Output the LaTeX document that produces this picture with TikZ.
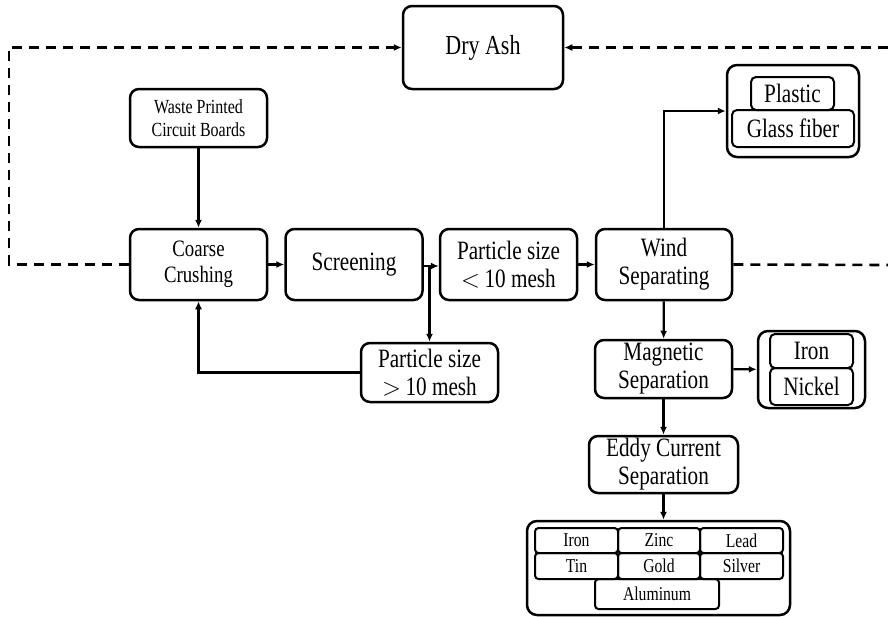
\documentclass[tikz,border=0pt]{standalone}
\usepackage{fontspec}
\setmainfont{Liberation Serif}
\newfontfamily\condfont[FakeStretch=0.8]{Liberation Serif}
\usetikzlibrary{arrows.meta}
\begin{document}
\begin{tikzpicture}[x=1pt,y=-1pt,
  box/.style={draw,line width=2.5pt,rounded corners=9pt,inner sep=0pt,align=center,font=\condfont\fontsize{26.5}{28}\selectfont},
  smallbox/.style={box,font=\condfont\fontsize{20}{23}\selectfont},
  outerbox/.style={draw,line width=2.5pt,rounded corners=10pt,inner sep=0pt},
  cell/.style={draw,line width=2pt,rounded corners=5pt,inner sep=0pt,align=center,font=\condfont\fontsize{26.5}{28}\selectfont},
  gcell/.style={cell,rounded corners=3.5pt,font=\condfont\fontsize{19.6}{22}\selectfont},
  arr/.style={line width=2.3pt,-{Latex[length=8pt,width=7pt]}},
  dashline/.style={line width=2.6pt,dash pattern=on 10pt off 7pt},
  dasharr/.style={dashline,-{Latex[length=8pt,width=7pt]}}]
\useasboundingbox (0,0) rectangle (888,616);
% main boxes
\node[box,minimum width=160pt,minimum height=83pt,font=\condfont\fontsize{27.5}{29}\selectfont] (dry) at (483,47.5) {Dry Ash};
\node[smallbox,minimum width=137pt,minimum height=58pt] (wpcb) at (198.5,118) {Waste Printed\\Circuit Boards};
\node[box,minimum width=137pt,minimum height=71pt,font=\condfont\fontsize{23.5}{26}\selectfont] (coarse) at (198.5,264.5) {Coarse\\Crushing};
\node[box,minimum width=137pt,minimum height=71pt] (screen) at (354,264.5) {Screening};
\node[box,minimum width=137pt,minimum height=71pt] (plt) at (508.5,264.5) {Particle size\\${<}$\,10 mesh};
\node[box,minimum width=136pt,minimum height=71pt] (wind) at (664,264.5) {Wind\\Separating};
\node[box,minimum width=137pt,minimum height=59pt] (pgt) at (429.5,372.5) {Particle size\\${>}$\,10 mesh};
\node[box,minimum width=137pt,minimum height=58pt] (mag) at (663.5,369) {Magnetic\\Separation};
\node[box,minimum width=149pt,minimum height=57pt] (eddy) at (663.5,464.5) {Eddy Current\\Separation};
% plastic / glass fiber
\node[outerbox,minimum width=132pt,minimum height=92pt] (pg) at (793,111) {};
\node[cell,minimum width=83pt,minimum height=33pt] (plastic) at (792.5,93.5) {Plastic};
\node[cell,minimum width=122pt,minimum height=37pt] (glass) at (793,128.5) {Glass fiber};
% iron / nickel
\node[outerbox,minimum width=107pt,minimum height=77pt] (fe) at (811.5,369.5) {};
\node[cell,minimum width=83pt,minimum height=34pt] (iron) at (811.5,351) {Iron};
\node[cell,minimum width=83pt,minimum height=37pt] (nickel) at (811.5,386.5) {Nickel};
% metals
\node[outerbox,minimum width=263pt,minimum height=94pt] (metals) at (658.5,568) {};
\node[gcell,minimum width=83pt,minimum height=25pt] (m1) at (576.5,540.5) {Iron};
\node[gcell,minimum width=82pt,minimum height=25pt] (m2) at (659,540.5) {Zinc};
\node[gcell,minimum width=83pt,minimum height=25pt] (m3) at (741.5,540.5) {Lead};
\node[gcell,minimum width=83pt,minimum height=26pt] (m4) at (576.5,566) {Tin};
\node[gcell,minimum width=82pt,minimum height=26pt] (m5) at (659,566) {Gold};
\node[gcell,minimum width=83pt,minimum height=26pt] (m6) at (741.5,566) {Silver};
\node[gcell,minimum width=124pt,minimum height=30pt] (m7) at (657,594) {Aluminum};
% coordinates
\coordinate (split) at (429.5,266);
\coordinate (bl) at (9,264.5);
\coordinate (tr) at (888,47.5);
\coordinate (rr) at (888,265);
% connectors
\draw[arr] (wpcb) -- (coarse);
\draw[arr] (coarse) -- (screen);
\draw[arr] (screen.east |- split) -- (plt.west |- split);
\draw[arr] (split) -- (pgt);
\draw[arr] (pgt.west) -| (coarse.south);
\draw[arr] (plt) -- (wind);
\draw[arr] (wind.north) |- (pg.west);
\draw[arr] (wind) -- (mag);
\draw[arr] (mag) -- (fe);
\draw[arr] (mag) -- (eddy);
\draw[arr] (eddy.south) -- (eddy.south |- metals.north);
% dashed
\draw[dasharr] (coarse.west) -- (bl) |- (dry.west);
\draw[dasharr] (tr) -- (dry.east);
\draw[dashline] (wind.east) -- (rr);
\end{tikzpicture}
\end{document}
